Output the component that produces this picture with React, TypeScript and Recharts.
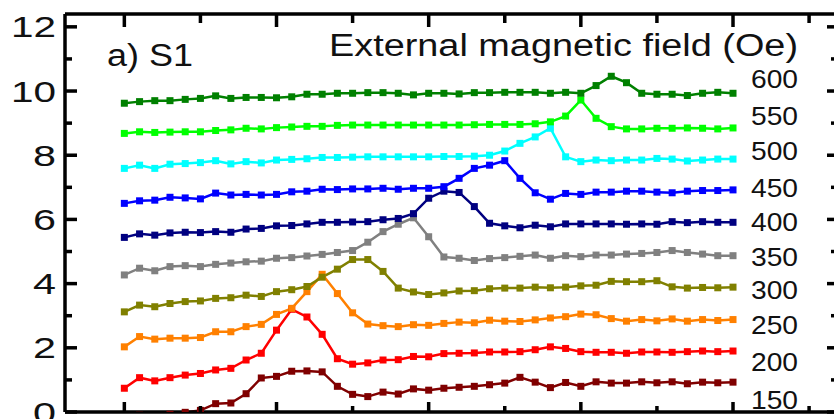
import React from 'react';
import { LineChart, Line, XAxis, YAxis } from 'recharts';

// x positions (point index along the scan)
const positions = [0, 1, 2, 3, 4, 5, 6, 7, 8, 9, 10, 11, 12, 13, 14, 15, 16, 17, 18, 19, 20,
  21, 22, 23, 24, 25, 26, 27, 28, 29, 30, 31, 32, 33, 34, 35, 36, 37, 38, 39, 40];

const s150 = [-0.2, -0.1, -0.14, -0.07, -0.01, 0.05, 0.26, 0.28, 0.57, 1.06, 1.11, 1.27, 1.28, 1.25, 0.8, 0.55, 0.48, 0.62, 0.56, 0.72,
  0.68, 0.74, 0.77, 0.8, 0.85, 0.9, 1.08, 0.93, 0.76, 0.92, 0.8, 0.94, 0.9, 0.9, 0.94, 0.91, 0.94, 0.88, 0.93, 0.91, 0.93];
const s200 = [0.74, 1.07, 0.97, 1.07, 1.15, 1.2, 1.31, 1.36, 1.62, 1.83, 2.55, 3.2, 2.96, 2.42, 1.66, 1.49, 1.53, 1.62, 1.63, 1.73,
  1.72, 1.82, 1.83, 1.84, 1.87, 1.87, 1.88, 1.94, 2.03, 1.98, 1.88, 1.86, 1.86, 1.83, 1.87, 1.87, 1.86, 1.88, 1.9, 1.88, 1.9];
const s250 = [2.03, 2.35, 2.27, 2.3, 2.3, 2.32, 2.5, 2.5, 2.66, 2.73, 3.04, 3.23, 3.75, 4.29, 3.69, 3.09, 2.74, 2.69, 2.66, 2.72,
  2.7, 2.76, 2.8, 2.78, 2.86, 2.83, 2.82, 2.87, 2.93, 2.97, 3.05, 3.03, 2.91, 2.83, 2.88, 2.84, 2.9, 2.83, 2.88, 2.85, 2.88];
const s300 = [3.12, 3.33, 3.28, 3.38, 3.44, 3.46, 3.54, 3.56, 3.64, 3.6, 3.75, 3.81, 3.91, 4.2, 4.45, 4.75, 4.75, 4.38, 3.86, 3.74,
  3.66, 3.71, 3.77, 3.78, 3.84, 3.86, 3.86, 3.89, 3.87, 3.89, 3.93, 3.95, 4.07, 4.06, 4.06, 4.09, 3.9, 3.86, 3.88, 3.87, 3.89];
const s350 = [4.27, 4.48, 4.4, 4.53, 4.56, 4.53, 4.6, 4.64, 4.68, 4.7, 4.79, 4.81, 4.86, 4.91, 4.97, 5.03, 5.29, 5.62, 5.85, 6.05,
  5.46, 4.83, 4.79, 4.72, 4.78, 4.81, 4.85, 4.89, 4.79, 4.87, 4.84, 4.89, 4.89, 4.92, 4.94, 4.97, 5.03, 4.97, 4.92, 4.87, 4.87];
const s400 = [5.44, 5.55, 5.51, 5.58, 5.6, 5.59, 5.62, 5.6, 5.7, 5.72, 5.8, 5.81, 5.86, 5.91, 5.91, 5.92, 5.93, 5.99, 6.03, 6.18,
  6.66, 6.88, 6.84, 6.4, 5.88, 5.8, 5.74, 5.82, 5.77, 5.86, 5.86, 5.86, 5.86, 5.85, 5.86, 5.85, 5.93, 5.9, 5.93, 5.91, 5.91];
const s450 = [6.5, 6.58, 6.6, 6.69, 6.67, 6.64, 6.82, 6.76, 6.78, 6.76, 6.78, 6.86, 6.88, 6.94, 6.93, 6.95, 6.95, 6.97, 6.94, 6.97,
  6.97, 7.02, 7.28, 7.59, 7.69, 7.83, 7.28, 6.83, 6.63, 6.81, 6.78, 6.85, 6.85, 6.88, 6.88, 6.85, 6.83, 6.88, 6.9, 6.9, 6.92];
const s500 = [7.59, 7.69, 7.59, 7.72, 7.74, 7.77, 7.83, 7.73, 7.8, 7.76, 7.85, 7.87, 7.89, 7.93, 7.93, 7.94, 7.95, 7.95, 7.95, 7.95,
  7.95, 7.96, 7.96, 7.97, 8.0, 8.13, 8.37, 8.57, 8.84, 7.95, 7.8, 7.85, 7.83, 7.85, 7.85, 7.9, 7.88, 7.82, 7.85, 7.88, 7.88];
const s550 = [8.68, 8.73, 8.71, 8.72, 8.73, 8.73, 8.77, 8.79, 8.84, 8.82, 8.86, 8.88, 8.9, 8.9, 8.93, 8.94, 8.94, 8.94, 8.94, 8.94,
  8.94, 8.94, 8.94, 8.95, 8.96, 8.96, 8.96, 8.98, 9.04, 9.22, 9.72, 9.15, 8.89, 8.82, 8.82, 8.84, 8.84, 8.85, 8.84, 8.82, 8.85];
const s600 = [9.62, 9.67, 9.7, 9.7, 9.74, 9.77, 9.85, 9.77, 9.8, 9.8, 9.79, 9.82, 9.9, 9.9, 9.93, 9.93, 9.95, 9.95, 9.93, 9.88,
  9.93, 9.93, 9.91, 9.95, 9.95, 9.96, 9.96, 9.96, 9.93, 9.96, 9.93, 10.17, 10.46, 10.26, 9.93, 9.9, 9.9, 9.86, 9.93, 9.96, 9.93];

const fieldLabels = ['150', '200', '250', '300', '350', '400', '450', '500', '550', '600'];
const seriesValues = [s150, s200, s250, s300, s350, s400, s450, s500, s550, s600];
const seriesColors = ['#800000', '#ff0000', '#ff8000', '#808000', '#808080', '#000080', '#0000ff', '#00ffff', '#00ff00', '#008000'];

const yTicks = [0, 1, 2, 3, 4, 5, 6, 7, 8, 9, 10, 11, 12];
const xTicks = [0, 5, 10, 15, 20, 25, 30, 35, 40, 45];
const panelTitle = 'a) S1';
const legendTitle = 'External magnetic field (Oe)';

const data = positions.map((x, k) => {
  const row: Record<string, number> = { x };
  fieldLabels.forEach((f, j) => { row['s' + f] = seriesValues[j][k]; });
  return row;
});

const W = 850;
const H = 430;
const PLOT_LEFT = 65;
const PLOT_RIGHT = 838;
const PLOT_TOP = 14;
const PLOT_BOTTOM = 412;
const FONT = "'Liberation Sans', Arial, Helvetica, sans-serif";
const AX = 3.5;

const SquareDot = (props: any) => {
  const { cx, cy, stroke, index } = props;
  if (cx == null || cy == null) return <g key={index} />;
  return <rect key={index} x={cx - 3.5} y={cy - 3.5} width={7} height={7} fill={stroke} />;
};

const LeftTick = (props: any) => {
  const { y, payload } = props;
  const v = payload.value as number;
  const major = v % 2 === 0;
  const s = String(v);
  return (
    <g>
      <line x1={PLOT_LEFT} x2={PLOT_LEFT + (major ? 12 : 7)} y1={y} y2={y} stroke="#000" strokeWidth={AX} />
      {major && (
        <text x={56} y={y + 10.5} textAnchor="end" fontSize={30} fontFamily={FONT} fill="#111"
          textLength={s.length === 2 ? 45 : 23} lengthAdjust="spacingAndGlyphs">{s}</text>
      )}
    </g>
  );
};

const RightTick = (props: any) => {
  const { y, payload } = props;
  const major = (payload.value as number) % 2 === 0;
  return <line x1={PLOT_RIGHT} x2={PLOT_RIGHT - (major ? 11 : 7)} y1={y} y2={y} stroke="#000" strokeWidth={AX} />;
};

const TopTick = (props: any) => {
  const { x, payload } = props;
  const major = (payload.value as number) % 10 === 0;
  return <line x1={x} x2={x} y1={PLOT_TOP} y2={PLOT_TOP + (major ? 13 : 9)} stroke="#000" strokeWidth={AX} />;
};

const BottomTick = (props: any) => {
  const { x, payload } = props;
  const major = (payload.value as number) % 10 === 0;
  return <line x1={x} x2={x} y1={PLOT_BOTTOM} y2={PLOT_BOTTOM - (major ? 10 : 6)} stroke="#000" strokeWidth={AX} />;
};

const labelBaselines = [409, 371, 334, 299, 266, 231, 197, 160, 125, 88];

export default function App() {
  return (
    <div style={{ position: 'absolute', left: 0, top: 0, width: 834, height: 419, overflow: 'hidden', background: '#fff' }}>
      <LineChart width={W} height={H} data={data} margin={{ top: 0, right: 0, bottom: 0, left: 0 }}>
        <XAxis dataKey="x" type="number" domain={[-3.9, 46.9]} allowDataOverflow ticks={xTicks} interval={0}
          height={H - PLOT_BOTTOM} axisLine={{ stroke: '#000', strokeWidth: AX }} tickLine={false}
          tick={(p: any) => <BottomTick {...p} />} />
        <XAxis xAxisId="top" orientation="top" dataKey="x" type="number" domain={[-3.9, 46.9]} allowDataOverflow
          ticks={xTicks} interval={0} height={PLOT_TOP} axisLine={{ stroke: '#000', strokeWidth: AX }} tickLine={false}
          tick={(p: any) => <TopTick {...p} />} />
        <YAxis type="number" domain={[0, 12.4]} allowDataOverflow ticks={yTicks} interval={0} width={PLOT_LEFT}
          axisLine={{ stroke: '#000', strokeWidth: AX }} tickLine={false} tick={(p: any) => <LeftTick {...p} />} />
        <YAxis yAxisId="right" orientation="right" type="number" domain={[0, 12.4]} allowDataOverflow ticks={yTicks}
          interval={0} width={W - PLOT_RIGHT} axisLine={{ stroke: '#000', strokeWidth: AX }} tickLine={false}
          tick={(p: any) => <RightTick {...p} />} />
        {fieldLabels.map((f, j) => (
          <Line key={f} dataKey={'s' + f} stroke={seriesColors[j]} strokeWidth={2.5} type="linear"
            dot={<SquareDot />} activeDot={false} isAnimationActive={false} />
        ))}
      </LineChart>
      <svg width={834} height={419} style={{ position: 'absolute', left: 0, top: 0, pointerEvents: 'none' }}>
        <text x={107} y={66} fontSize={31} fontFamily={FONT} fill="#111" textLength={86} lengthAdjust="spacingAndGlyphs">{panelTitle}</text>
        <text x={329} y={56} fontSize={31} fontFamily={FONT} fill="#111" textLength={469} lengthAdjust="spacingAndGlyphs">{legendTitle}</text>
        {fieldLabels.map((f, j) => (
          <text key={f} x={751} y={labelBaselines[j]} fontSize={25} fontFamily={FONT} fill="#111" textLength={47}
            lengthAdjust="spacingAndGlyphs">{f}</text>
        ))}
      </svg>
    </div>
  );
}
